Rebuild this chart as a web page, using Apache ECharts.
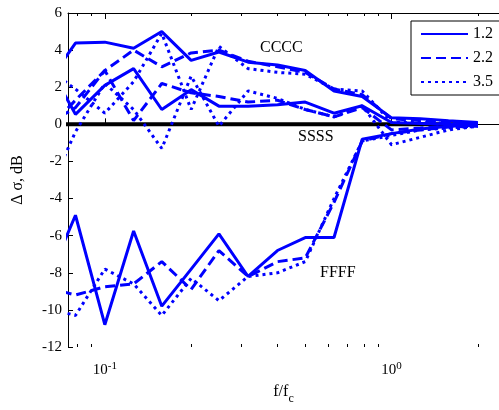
<!DOCTYPE html>
<html>
<head>
<meta charset="utf-8">
<script src="https://cdn.jsdelivr.net/npm/echarts@6/dist/echarts.min.js"></script>
<style>
html, body { margin: 0; padding: 0; background: #fff; }
#chart { width: 499px; height: 410px; }
</style>
</head>
<body>
<div id="chart"></div>
<script>
// 1/3-octave band centres, f/fc
var freq = [0.063, 0.079, 0.1, 0.126, 0.158, 0.2, 0.25, 0.316, 0.4, 0.5, 0.63, 0.79, 1.0, 1.26, 1.58, 2.0];

// CCCC group
var cSolid  = [2.2, 4.38, 4.43, 4.1, 5.0, 3.45, 3.9, 3.35, 3.2, 2.9, 1.8, 1.5, 0.35, 0.3, 0.2, 0.1];
var cDash   = [-0.3, 1.3, 2.9, 4.0, 3.1, 3.85, 4.0, 3.4, 3.1, 2.8, 1.9, 1.6, 0.3, 0.2, 0.1, 0.05];
var cDot    = [3.0, 1.9, 0.6, 2.3, 4.9, 0.8, 4.2, 3.0, 2.8, 2.7, 1.9, 1.8, 0.1, 0.1, 0.05, 0.0];
// SSSS group
var sSolid  = [3.3, 0.54, 2.1, 3.0, 0.8, 1.87, 0.98, 0.98, 1.05, 1.2, 0.6, 1.0, 0.1, 0.05, 0.0, 0.0];
var sDash   = [0.0, 0.9, 2.9, 0.2, 2.2, 1.7, 1.5, 1.2, 1.3, 0.8, 0.4, 0.9, -0.3, -0.2, -0.1, -0.05];
var sDot    = [-3.8, -0.4, 2.2, 0.8, -1.3, 2.6, -0.1, 1.8, 1.4, 0.8, 0.4, 1.0, -1.1, -0.7, -0.3, -0.1];
// FFFF group
var fSolid  = [-8.5, -4.9, -10.8, -5.75, -9.8, -7.8, -5.9, -8.2, -6.8, -6.1, -6.1, -0.8, -0.5, -0.25, -0.1, -0.05];
var fDash   = [-8.8, -9.2, -8.75, -8.6, -7.4, -8.9, -6.8, -8.2, -7.4, -7.2, -4.2, -0.9, -0.5, -0.3, -0.15, -0.1];
var fDot    = [-9.9, -10.3, -7.8, -8.6, -10.3, -8.3, -9.5, -8.2, -8.0, -7.4, -4.0, -0.9, -0.6, -0.3, -0.2, -0.1];
var zeroRef = [0, 0, 0, 0, 0, 0, 0, 0, 0, 0, 0, 0, 0, 0, 0, 0];

var legendNames = ['1.2', '2.2', '3.5'];
var majorTicks = [0.1, 1];
var minorTicks = [0.08, 0.09, 0.2, 0.3, 0.4, 0.5, 0.6, 0.7, 0.8, 0.9, 2];

var serif = '"Liberation Serif", "DejaVu Serif", serif';
var blue = '#0000ff';
var dashPat = [10, 5];
var dotPat = [3, 4];

function pairs(vals) {
    return freq.map(function (f, i) { return [f, vals[i]]; });
}

function curve(name, vals, type) {
    return {
        name: name,
        type: 'line',
        data: pairs(vals),
        symbol: 'none',
        clip: true,
        lineStyle: { color: blue, width: 3, type: type },
        itemStyle: { color: blue },
        z: 3
    };
}

function xAxisFor(pos, ticks, len, labels) {
    return {
        type: 'log',
        logBase: 10,
        min: 0.0744,
        max: 2.37,
        position: pos,
        axisLine: { show: !!labels, lineStyle: { color: '#000', width: 1 } },
        axisTick: { inside: true, length: len, customValues: ticks, lineStyle: { color: '#000' } },
        axisLabel: labels ? {
            customValues: ticks,
            margin: 14,
            color: '#000',
            fontFamily: serif,
            fontSize: 15,
            formatter: function (v) {
                return '10{sup|' + Math.round(Math.log10(v)) + '}';
            },
            rich: { sup: { fontSize: 11, fontFamily: serif, color: '#000', verticalAlign: 'bottom', padding: [0, 0, 8, 0] } }
        } : { show: false },
        splitLine: { show: false },
        name: pos === 'bottom' && labels ? 'f/f{sub|c}' : '',
        nameLocation: 'middle',
        nameGap: 32,
        nameTextStyle: {
            color: '#000', fontFamily: serif, fontSize: 16,
            rich: { sub: { fontSize: 12, fontFamily: serif, color: '#000', padding: [14, 0, 0, 0] } }
        }
    };
}

var chart = echarts.init(document.getElementById('chart'));

var option = {
    animation: false,
    backgroundColor: '#fff',
    grid: { left: 68, top: 13, right: 0, bottom: 61, containLabel: false },
    legend: {
        data: legendNames,
        orient: 'vertical',
        left: 411,
        top: 21,
        padding: [5, 7, 5, 9],
        itemWidth: 47,
        itemHeight: 14,
        itemGap: 8,
        borderColor: '#000',
        borderWidth: 1,
        backgroundColor: '#fff',
        itemStyle: { opacity: 0 },
        textStyle: { color: '#000', fontFamily: serif, fontSize: 16 }
    },
    xAxis: [
        xAxisFor('bottom', majorTicks, 6, true),
        xAxisFor('bottom', minorTicks, 3, false),
        Object.assign(xAxisFor('top', majorTicks, 6, false), { axisLine: { show: true, lineStyle: { color: '#000' } } }),
        xAxisFor('top', minorTicks, 3, false)
    ],
    yAxis: {
        type: 'value',
        min: -12,
        max: 6,
        interval: 2,
        axisLine: { show: true, lineStyle: { color: '#000' } },
        axisTick: { inside: true, length: 5, lineStyle: { color: '#000' } },
        axisLabel: { color: '#000', fontFamily: serif, fontSize: 15, margin: 6 },
        splitLine: { show: false },
        name: '\u0394 \u03c3, dB',
        nameLocation: 'middle',
        nameGap: 42,
        nameTextStyle: { color: '#000', fontFamily: serif, fontSize: 16 }
    },
    series: [
        {
            name: 'ref',
            type: 'line',
            data: pairs(zeroRef),
            symbol: 'none',
            lineStyle: { color: '#000', width: 4 },
            z: 2
        },
        curve('1.2', cSolid, 'solid'),
        curve('2.2', cDash, dashPat),
        curve('3.5', cDot, dotPat),
        curve('1.2', sSolid, 'solid'),
        curve('2.2', sDash, dashPat),
        curve('3.5', sDot, dotPat),
        curve('1.2', fSolid, 'solid'),
        curve('2.2', fDash, dashPat),
        curve('3.5', fDot, dotPat)
    ],
    graphic: [
        { type: 'text', left: 260, top: 40, style: { text: 'CCCC', font: '16px ' + serif, fill: '#000' } },
        { type: 'text', left: 298, top: 129, style: { text: 'SSSS', font: '16px ' + serif, fill: '#000' } },
        { type: 'text', left: 320, top: 265, style: { text: 'FFFF', font: '16px ' + serif, fill: '#000' } }
    ]
};

chart.setOption(option);
</script>
</body>
</html>
